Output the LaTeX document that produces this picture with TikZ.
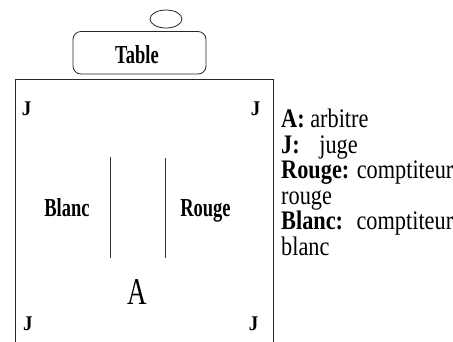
\documentclass[tikz,border=0pt]{standalone}
\usepackage{fontspec}
\setmainfont{Liberation Serif}
\newcommand{\vsc}[2][1.25]{\scalebox{1}[#1]{#2}}
\begin{document}
\begin{tikzpicture}[x=1pt,y=-1pt,
  frame/.style={draw=black!85, line width=0.8pt},
  inlbl/.style={inner sep=0pt, anchor=base, font=\bfseries\fontsize{18.5}{20}\selectfont},
  jlbl/.style={inner sep=0pt, anchor=base, font=\bfseries\fontsize{19}{20}\selectfont},
  leg/.style={inner sep=0pt, anchor=base west, font=\fontsize{22.3}{24}\selectfont}]
\useasboundingbox (0,0) rectangle (453,341);
% ellipse and table
\draw[frame] (166,19) ellipse [x radius=16, y radius=9];
\node[frame, rounded corners=8pt, minimum width=133pt, minimum height=42.5pt, inner sep=0pt] (table) at (139.5,52.75) {};
\node[inlbl] (tabletxt) at (137,63) {\vsc[1.4]{Table}};
% main area
\draw[frame] (15.5,350) -- (15.5,79.5) -- (273,79.5) -- (273,350);
% judges
\node[jlbl] (j1) at (26.5,115) {\vsc[1.1]{J}};
\node[jlbl] (j2) at (255.5,115) {\vsc[1.1]{J}};
\node[jlbl] (j3) at (28,330) {\vsc[1.1]{J}};
\node[jlbl] (j4) at (253.5,330) {\vsc[1.1]{J}};
% competitors
\draw[black!80, line width=0.8pt] (110,157) -- (110,257.5);
\draw[black!80, line width=0.8pt] (165.5,158) -- (165.5,257.5);
\node[inlbl] (blanc) at (67,216.5) {\vsc[1.4]{Blanc}};
\node[inlbl] (rouge) at (205.5,216.5) {\vsc[1.4]{Rouge}};
\node[inner sep=0pt, anchor=base, font=\fontsize{27}{29}\selectfont] (arb) at (137,304) {\vsc[1.4]{A}};
% legend
\node[leg] (l1) at (281,127.5) {\vsc[1.2]{\textbf{A:} arbitre}};
\node[leg] (l2) at (281,153) {\vsc[1.2]{\textbf{J:}\hspace{14pt} juge}};
\node[leg] (l3) at (281,178.5) {\vsc[1.2]{\textbf{Rouge:} comptiteur}};
\node[leg] (l4) at (281,204) {\vsc[1.2]{rouge}};
\node[leg] (l5) at (281,229.5) {\vsc[1.2]{\textbf{Blanc:}\hspace{6pt} comptiteur}};
\node[leg] (l6) at (281,255) {\vsc[1.2]{blanc}};
\end{tikzpicture}
\end{document}
